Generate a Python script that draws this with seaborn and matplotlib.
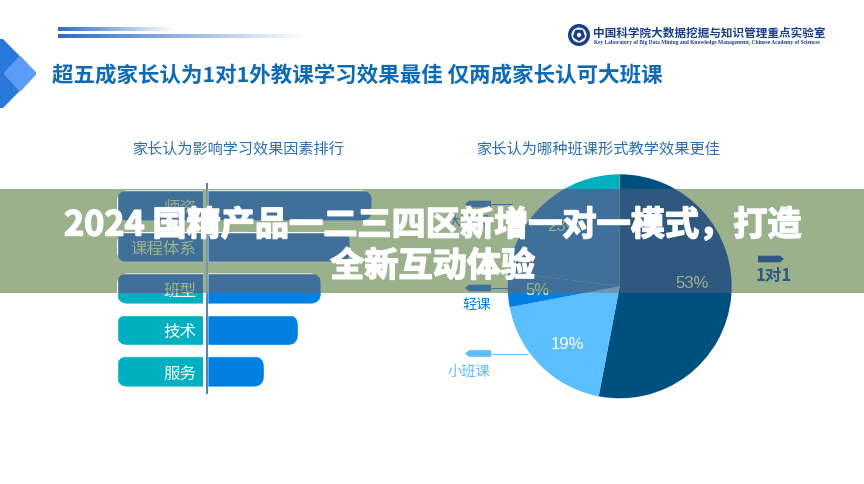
import numpy as np
import pandas as pd
import matplotlib
matplotlib.use("Agg")
import matplotlib.pyplot as plt
from matplotlib.patches import FancyBboxPatch, Polygon, Rectangle, Circle, RegularPolygon
from matplotlib.colors import LinearSegmentedColormap
from matplotlib.transforms import Bbox
import matplotlib.patheffects as pe
import seaborn as sns

sns.set_theme(style="white")
CJK = ["Noto Sans CJK SC", "DejaVu Sans"]
plt.rcParams["font.family"] = CJK

factors = ["师资", "课程体系", "班型", "技术", "服务"]
factor_scores = [165, 143, 114, 91, 57]
factor_backing = [-90, -90, -90, -90, -90]
modes = ["1对1", "小班课", "轻课", "大班课"]
mode_shares = [53, 19, 5, 23]
mode_colors = ["#00507F", "#5BBEFF", "#0080E0", "#00B0C0"]
mode_tints = ["#2F5880", "#6F95B5", "#40709A", "#40709A"]
BANNER = "#9AB18C"
BAND_TOP, BAND_BOTTOM = 190, 294

W, H = 864, 485
fig = plt.figure(figsize=(W / 100, H / 100), dpi=100, facecolor="white")
band_box = Bbox([[0, H - BAND_BOTTOM], [W, H - BAND_TOP]])


def pixel_axes(z):
    a = fig.add_axes([0, 0, 1, 1], zorder=z)
    a.set_xlim(0, W)
    a.set_ylim(H, 0)
    a.axis("off")
    a.patch.set_alpha(0)
    return a


def box_axes(x0, y0, x1, y1, z):
    a = fig.add_axes([x0 / W, 1 - y1 / H, (x1 - x0) / W, (y1 - y0) / H], zorder=z)
    a.patch.set_alpha(0)
    return a


def clip_to_band(a):
    for art in a.get_children():
        art.set_clip_on(True)
        art.set_clip_box(band_box)


def shows(y, tinted):
    """A text is only drawn in the layer where it can be seen."""
    if tinted:
        return y - 8 < BAND_BOTTOM
    return y + 8 > BAND_BOTTOM


def draw_bars(z, blue, teal, gap, line, label, tinted):
    ax = box_axes(117, 183.5, 373, 394.5, z)
    df = pd.DataFrame({"factor": factors, "score": factor_scores, "backing": factor_backing})
    sns.barplot(data=df, y="factor", x="score", color=blue, width=0.73, saturation=1, ax=ax)
    n_blue = len(ax.patches)
    sns.barplot(data=df, y="factor", x="backing", color=teal, width=0.73, saturation=1, ax=ax)
    ax.set_xlim(-90, 166)
    ax.set_ylim(4.53, -0.554)
    r = 11
    asp = 0.0241
    for i, p in enumerate(ax.patches):
        x, y, w, h = p.get_x(), p.get_y(), p.get_width(), p.get_height()
        # rounded only on the outer end: the clip shape runs past the axis line
        if i < n_blue:
            bx, bw = -40, w + 40
        else:
            bx, bw = x + min(w, 0), abs(w) + 40
        clip = FancyBboxPatch((bx + r, y + r * asp), bw - 2 * r, h - 2 * r * asp,
                              boxstyle=f"round,pad={r},rounding_size={r}", mutation_aspect=asp,
                              transform=ax.transData, fc="none", ec="none")
        ax.add_artist(clip)
        p.set_clip_path(clip)
    ax.axvline(-1.5, color=gap, lw=2.9, zorder=4)
    ax.axvline(0, color=line, lw=1.3, zorder=5)
    for i, name in enumerate(factors):
        if shows(206 + 41.5 * i, tinted):
            ax.text(-10.5, i + 0.04, name, color=label, fontsize=11.9, ha="right", va="center", zorder=6)
    ax.set_xlabel("")
    ax.set_ylabel("")
    ax.set_xticks([])
    ax.set_yticks([])
    sns.despine(ax=ax, left=True, bottom=True)
    return ax


R = 112
CX, CY = 619.7, 287.3


def draw_pie(z, colors):
    a = box_axes(CX - R, CY - R, CX + R, CY + R, z)
    a.pie(mode_shares, colors=colors, startangle=90, counterclock=False, radius=1, wedgeprops=dict(linewidth=0))
    a.set_xlim(-1, 1)
    a.set_ylim(-1, 1)
    return a


def tag(a, x0, x1, y, color, point_right):
    h = 3.3
    if point_right:
        pts = [(x0, y - h), (x1 - 4, y - h), (x1, y), (x1 - 4, y + h), (x0, y + h)]
    else:
        pts = [(x1, y - h), (x0 + 4, y - h), (x0, y), (x0 + 4, y + h), (x1, y + h)]
    a.add_patch(Polygon(pts, closed=True, fc=color, ec="none"))


def draw_labels(z, colors, pct, tinted):
    a = pixel_axes(z)
    for txt, x, y in [("53%", 692, 284), ("19%", 568, 345), ("5%", 537, 291), ("23%", 564, 227)]:
        if shows(y, tinted):
            a.text(x, y, txt, color=pct, fontsize=12, family="Liberation Sans", ha="center", va="center")
    tag(a, 758, 784, 260, colors[0], True)
    if shows(276, tinted):
        a.text(773.5, 276, modes[0], color=colors[0], fontsize=12, fontweight="bold", ha="center", va="center")
    tag(a, 465, 491, 205, colors[3], False)
    a.plot([491, 512], [205, 205], color=colors[3], lw=0.7)
    if shows(221, tinted):
        a.text(469, 221, modes[3], color=colors[3], fontsize=10.3, ha="center", va="center")
    tag(a, 465, 491, 289, colors[2], False)
    a.plot([491, 507], [289, 289], color=colors[2], lw=0.7)
    if shows(305, tinted):
        a.text(476.5, 305, modes[2], color=colors[2], fontsize=10.3, fontweight="medium", ha="center", va="center")
    tag(a, 465, 491, 354.5, colors[1], False)
    a.plot([491, 528], [354.5, 354.5], color=colors[1], lw=0.7)
    if shows(371.5, tinted):
        a.text(469, 371.5, modes[1], color=colors[1], fontsize=10.3, ha="center", va="center")
    return a


back = pixel_axes(1)

# header gradient rules
for x0, x1, y0, y1 in [(58, 175, 28, 31.5), (58, 305, 35, 38.5)]:
    cm = LinearSegmentedColormap.from_list("g", [(0.18, 0.42, 0.78, 1), (0.18, 0.42, 0.78, 0)])
    back.imshow(np.linspace(0, 1, 256)[None, :], extent=(x0, x1, y1, y0), cmap=cm, aspect="auto", zorder=2)
back.set_xlim(0, W)
back.set_ylim(H, 0)

# corner emblem
back.add_patch(Polygon([(-3, 42), (2, 42), (34, 74.5), (2, 107), (-3, 107)], closed=True,
                       fc="#2A78DC", ec="#2A78DC", lw=3, joinstyle="round"))
back.add_patch(Polygon([(20, 59.5), (34, 74.5), (20, 90), (6, 74.5)], closed=True,
                       fc="#5A9CF8", ec="#5A9CF8", lw=3, joinstyle="round"))

# institution logo
back.add_patch(Circle((579, 36), 11, fc="#1A3F86", ec="none"))
back.add_patch(Circle((579, 36), 7.5, fc="white", ec="none"))
back.add_patch(RegularPolygon((579, 36), 5, radius=6.5, fc="#1A3F86", ec="none"))
back.add_patch(Circle((579, 36), 2.2, fc="white", ec="none"))
back.text(593, 33, "中国科学院大数据挖掘与知识管理重点实验室", fontsize=8.4, fontweight="bold",
          color="#1A3F86", ha="left", va="center")
back.text(594.5, 42.5, "Key Laboratory of Big Data Mining and Knowledge Management, Chinese Academy of Sciences",
          fontsize=4.0, fontweight="bold", family="Liberation Serif", color="#1A3F86", ha="left", va="center")

back.text(52, 76, "超五成家长认为1对1外教课学习效果最佳 仅两成家长认可大班课", fontsize=15.45,
          fontweight="heavy", color="#0F6AB4", ha="left", va="center")
back.text(238, 149, "家长认为影响学习效果因素排行", fontsize=10.9, color="#2A6FB0", ha="center", va="center")
back.text(598, 149, "家长认为哪种班课形式教学效果更佳", fontsize=11, color="#2A6FB0", ha="center", va="center")

# plain layer
draw_bars(2, "#0080E0", "#00B0C0", "white", "#3F78B0", "white", False)
draw_pie(3, mode_colors)
draw_labels(4, mode_colors, "white", False)

# banner, with what shows through it
band_ax = pixel_axes(5)
band_ax.add_patch(Rectangle((0, BAND_TOP), W, BAND_BOTTOM - BAND_TOP, fc=BANNER, ec="none"))
clip_to_band(draw_bars(6, "#40709A", "#40709A", BANNER, "#6F95B5", BANNER, True))
clip_to_band(draw_pie(7, mode_tints))
clip_to_band(draw_labels(8, mode_tints, BANNER, True))

top = pixel_axes(9)
stroke = [pe.withStroke(linewidth=1.1, foreground="white")]
for line, y in [("2024 国精产品一二三四区新增一对一模式，打造", 226), ("全新互动体验", 267)]:
    top.text(432.5, y, line, color="white", fontsize=24.6, fontweight="bold", ha="center", va="center",
             path_effects=stroke)

fig.savefig("out.png", dpi=100, facecolor="white")
